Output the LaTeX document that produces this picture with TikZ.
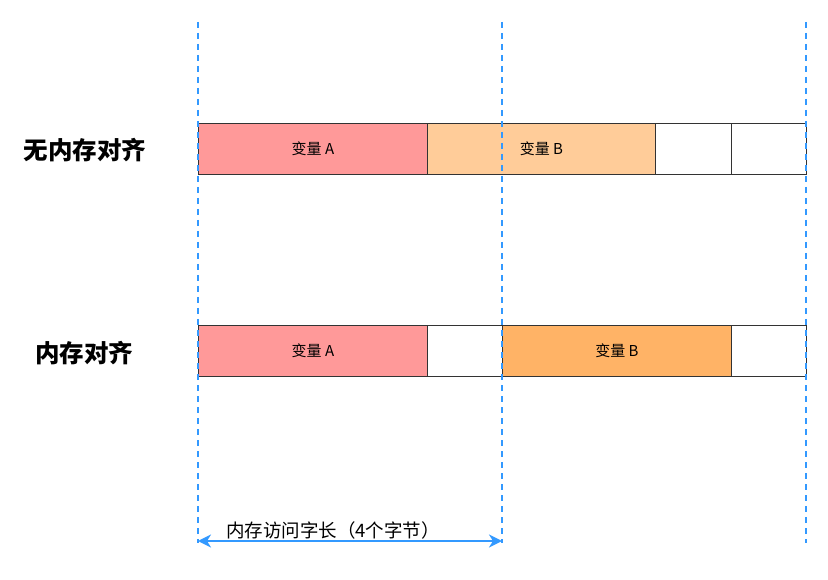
\documentclass[tikz,border=0pt]{standalone}
\usepackage{fontspec}
\setmainfont{Noto Sans CJK SC}
\usetikzlibrary{arrows.meta}
\definecolor{cA}{HTML}{FF9999}
\definecolor{cB1}{HTML}{FFCC99}
\definecolor{cB2}{HTML}{FFB366}
\definecolor{dblue}{HTML}{3399FF}
\begin{document}
\begin{tikzpicture}[x=1pt,y=-1pt,
  cell/.style={draw=black!80,line width=0.8pt,minimum height=51pt,inner sep=0pt,font=\fontsize{15}{17}\selectfont},
  rowlabel/.style={font=\bfseries\fontsize{24.5}{28}\selectfont,anchor=center},
  guide/.style={dblue,line width=1.6pt,dash pattern=on 6pt off 5pt},
  dim/.style={dblue,line width=2pt,{Stealth[length=13pt,width=13pt,inset=4pt]}-{Stealth[length=13pt,width=13pt,inset=4pt]}}]
\useasboundingbox (0,0) rectangle (828,580);
% top row
\node[cell,fill=cA,minimum width=229pt,anchor=north west] (ta) at (198,123) {变量 A};
\node[cell,fill=cB1,minimum width=228pt,anchor=north west] (tb) at (427,123) {变量 B};
\node[cell,fill=white,minimum width=76pt,anchor=north west] (tc) at (655,123) {};
\node[cell,fill=white,minimum width=75pt,anchor=north west] (td) at (731,123) {};
% bottom row
\node[cell,fill=cA,minimum width=229pt,anchor=north west] (ba) at (198,325) {变量 A};
\node[cell,fill=white,minimum width=75pt,anchor=north west] (bp) at (427,325) {};
\node[cell,fill=cB2,minimum width=229pt,anchor=north west] (bb) at (502,325) {变量 B};
\node[cell,fill=white,minimum width=75pt,anchor=north west] (bq) at (731,325) {};
% labels
\node[rowlabel] (l1) at (85,150) {无内存对齐};
\node[rowlabel] (l2) at (84,353) {内存对齐};
% guides
\coordinate (g1t) at (198,22); \coordinate (g1b) at (198,543);
\coordinate (g2t) at (502,22); \coordinate (g2b) at (502,543);
\coordinate (g3t) at (806,22); \coordinate (g3b) at (806,543);
\draw[guide] (g1t) -- (g1b);
\draw[guide] (g2t) -- (g2b);
\draw[guide] (g3t) -- (g3b);
% dimension
\coordinate (d1) at (198,541); \coordinate (d2) at (502,541);
\draw[dim] (d1) -- (d2);
\node[font=\fontsize{18.5}{20}\selectfont] (dl) at (333,530) {内存访问字长（4个字节）};
\end{tikzpicture}
\end{document}
